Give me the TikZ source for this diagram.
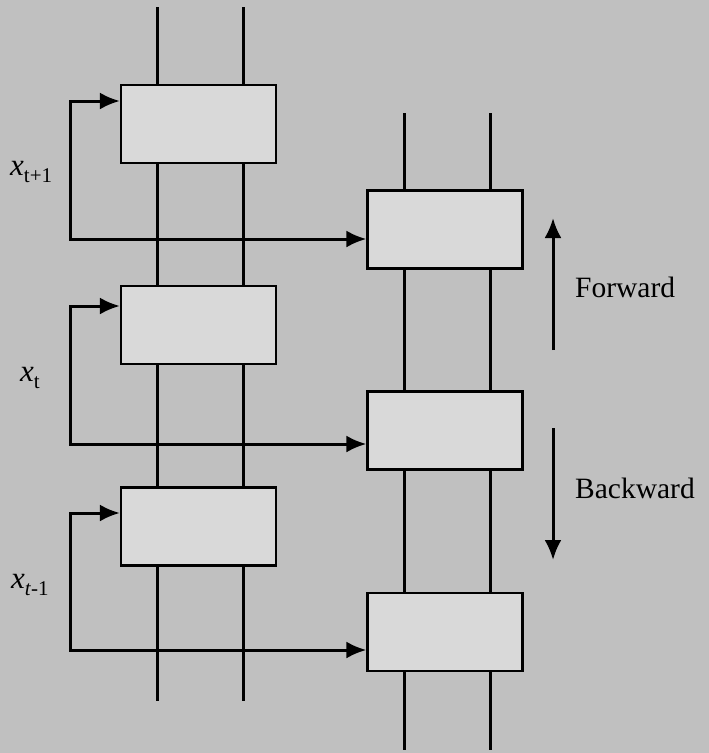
\documentclass[tikz,border=0pt]{standalone}
\usepackage{fontspec}
\setmainfont{Liberation Serif}
\usetikzlibrary{arrows.meta}
\definecolor{bggray}{HTML}{C0C0C0}
\definecolor{boxgray}{HTML}{D9D9D9}
\tikzset{
  cell/.style={draw=black, line width=2.2pt, fill=boxgray, minimum width=155pt, minimum height=78pt, inner sep=0pt},
  wire/.style={line width=3pt, black},
  conn/.style={line width=3pt, black, {Latex[length=20pt,width=17pt]}-{Latex[length=20pt,width=17pt]}},
  dirarrow/.style={line width=3pt, black, -{Latex[length=20pt,width=17pt]}},
  lbl/.style={font=\fontsize{29.5}{30}\selectfont, inner sep=0pt},
  xlbl/.style={font=\fontsize{31}{32}\selectfont, inner sep=0pt}
}
\newcommand{\subt}[1]{\raisebox{-0.25em}{\fontsize{21}{22}\selectfont #1}}
\begin{document}
\begin{tikzpicture}[x=1pt,y=-1pt]
\useasboundingbox (0,0) rectangle (709,753);
\fill[bggray] (0,0) rectangle (709,753);
% vertical lines
\coordinate (la1) at (157,7);   \coordinate (la2) at (157,701);
\coordinate (lb1) at (243,7);   \coordinate (lb2) at (243,701);
\coordinate (ra1) at (404,113); \coordinate (ra2) at (404,750);
\coordinate (rb1) at (490,113); \coordinate (rb2) at (490,750);
\draw[wire] (la1) -- (la2);
\draw[wire] (lb1) -- (lb2);
\draw[wire] (ra1) -- (ra2);
\draw[wire] (rb1) -- (rb2);
% boxes
\node[cell] (L1) at (198.5,124) {};
\node[cell] (L2) at (198.5,325) {};
\node[cell] (L3) at (198.5,526.5) {};
\node[cell] (R1) at (445,229.5) {};
\node[cell] (R2) at (445,430.5) {};
\node[cell] (R3) at (445,632) {};
% feedback connectors
\coordinate (c1) at (70,101);
\coordinate (c2) at (70,306);
\coordinate (c3) at (70,513);
\draw[conn] ([yshift=23pt]L1.west) -- (c1) |- ([yshift=-9.5pt]R1.west);
\draw[conn] ([yshift=19pt]L2.west) -- (c2) |- ([yshift=-13.5pt]R2.west);
\draw[conn] ([yshift=13.5pt]L3.west) -- (c3) |- ([yshift=-18pt]R3.west);
% direction arrows
\coordinate (f0) at (553,350); \coordinate (f1) at (553,218);
\coordinate (b0) at (553,428); \coordinate (b1) at (553,560);
\draw[dirarrow] (f0) -- (f1);
\draw[dirarrow] (b0) -- (b1);
\node[lbl, anchor=base west] (fw) at (575,297) {Forward};
\node[lbl, anchor=base west] (bw) at (575,498) {Backward};
% input labels
\node[xlbl, anchor=base west] (x1) at (10,175) {\textit{x}\subt{t+1}};
\node[xlbl, anchor=base west] (x2) at (20,381) {\textit{x}\subt{t}};
\node[xlbl, anchor=base west] (x3) at (11,588) {\textit{x}\subt{\textit{t}-1}};
\end{tikzpicture}
\end{document}
